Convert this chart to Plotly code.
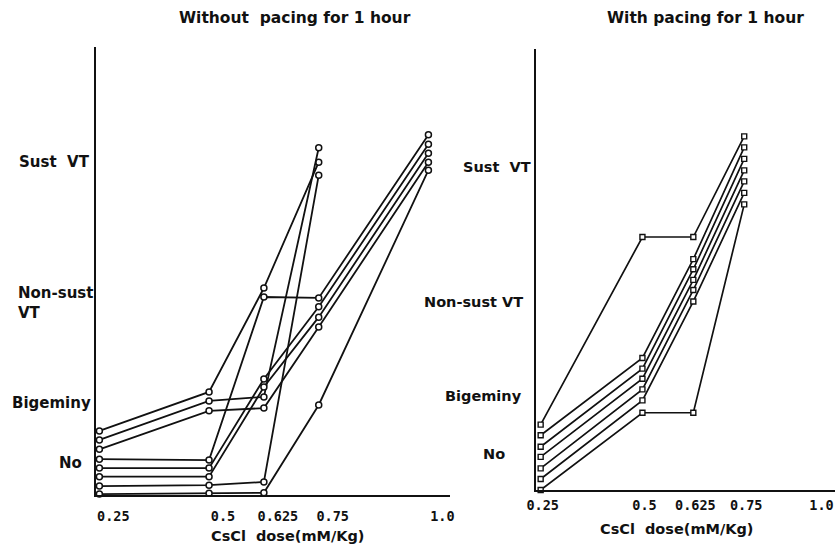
import plotly.graph_objects as go

# ---------------- data ----------------
doses = [0.25, 0.5, 0.625, 0.75, 1.0]
dose_ticks = ["0.25", "0.5", "0.625", "0.75", "1.0"]
levels = ["No", "Bigeminy", "Non-sust VT", "Sust  VT"]

# Left panel (without pacing): arrhythmia score per animal (circles)
left_x = {
    "A1": [0.25, 0.5, 0.625, 0.75],
    "A2": [0.25, 0.5, 0.625, 0.75],
    "A3": [0.25, 0.5, 0.625, 0.75, 1.0],
    "A4": [0.25, 0.5, 0.625, 0.75, 1.0],
    "A5": [0.25, 0.5, 0.625, 0.75, 1.0],
    "A6": [0.25, 0.5, 0.625, 0.75, 1.0],
    "A7": [0.25, 0.5, 0.625, 0.75],
    "A8": [0.25, 0.5, 0.625, 0.75, 1.0],
}
left_y = {
    "A1": [1.43, 2.30, 4.62, 7.43],
    "A2": [1.23, 2.10, 2.19, 7.75],
    "A3": [1.02, 1.88, 1.94, 3.75, 7.43],
    "A4": [0.80, 0.78, 4.42, 4.40, 8.04],
    "A5": [0.60, 0.60, 2.59, 4.20, 7.83],
    "A6": [0.41, 0.41, 2.41, 3.97, 7.63],
    "A7": [0.20, 0.22, 0.29, 7.14],
    "A8": [0.02, 0.04, 0.05, 2.01, 7.25],
}
# Right panel (with pacing): squares
right_x = {k: [0.25, 0.5, 0.625, 0.75] for k in ["B1", "B2", "B3", "B4", "B5", "B6", "B7"]}
right_y = {
    "B1": [1.48, 5.73, 5.73, 8.01],
    "B2": [1.24, 2.99, 5.23, 7.76],
    "B3": [0.98, 2.75, 5.00, 7.50],
    "B4": [0.75, 2.52, 4.76, 7.24],
    "B5": [0.49, 2.28, 4.53, 6.99],
    "B6": [0.25, 2.03, 4.27, 6.73],
    "B7": [0.00, 1.75, 1.75, 6.47],
}
left_level_pos = [0.71, 2.05, 4.29, 7.43]
right_level_pos = [0.82, 2.12, 4.25, 7.32]
right_tick_pos = [0.25, 0.5, 0.625, 0.75, 0.935]

# ---------------- figure ----------------
W, H = 840, 545
FONT = "DejaVu Sans"
MONO = "DejaVu Sans Mono"
INK = "#111111"

fig = go.Figure()
for k in left_x:
    fig.add_trace(go.Scatter(
        x=left_x[k], y=left_y[k], mode="lines+markers", xaxis="x", yaxis="y",
        line=dict(color=INK, width=1.8),
        marker=dict(symbol="circle", size=6, color="white", line=dict(color=INK, width=1.5)),
        cliponaxis=False, showlegend=False, hoverinfo="skip"))
for k in right_x:
    fig.add_trace(go.Scatter(
        x=right_x[k], y=right_y[k], mode="lines+markers", xaxis="x2", yaxis="y2",
        line=dict(color=INK, width=1.7),
        marker=dict(symbol="square", size=5, color="white", line=dict(color=INK, width=1.4)),
        cliponaxis=False, showlegend=False, hoverinfo="skip"))

def px2x(p):
    return p / W

def px2y(p):
    return (H - p) / H

axis_common = dict(showline=True, linecolor=INK, linewidth=2, showgrid=False,
                   zeroline=False, ticks="", fixedrange=True)
tickfont = dict(family=MONO, size=13.5, color=INK, weight="bold")

fig.update_layout(
    width=W, height=H, margin=dict(l=0, r=0, t=0, b=0),
    paper_bgcolor="white", plot_bgcolor="white", hovermode=False,
    xaxis=dict(domain=[px2x(88), px2x(448)], range=[0.2433, 1.0492],
               tickvals=doses, ticktext=dose_ticks, ticklabelshift=14, ticklabelstandoff=8,
               tickfont=tickfont, anchor="y", **axis_common),
    yaxis=dict(domain=[px2y(495), px2y(47)], range=[0, 10], showticklabels=False,
               anchor="x", **axis_common),
    xaxis2=dict(domain=[px2x(535.5), 1.0], range=[0.2384, 0.973],
                tickvals=right_tick_pos, ticktext=dose_ticks, ticklabelshift=2, ticklabelstandoff=2,
                tickfont=tickfont, anchor="y2", **axis_common),
    yaxis2=dict(domain=[px2y(490), px2y(48.5)], range=[0, 10], showticklabels=False,
                anchor="x2", **axis_common),
)

ann = []
tfont = dict(family=FONT, size=15.5, color=INK, weight="bold")
ann.append(dict(text="Without  pacing for 1 hour", x=px2x(290), y=px2y(18), xref="paper", yref="paper",
                showarrow=False, font=tfont, xanchor="center", yanchor="middle"))
ann.append(dict(text="With pacing for 1 hour", x=px2x(708), y=px2y(17.5), xref="paper", yref="paper",
                showarrow=False, font=tfont, xanchor="center", yanchor="middle"))
afont = dict(family=FONT, size=14.5, color=INK, weight="bold")
ann.append(dict(text="CsCl  dose(mM/Kg)", x=px2x(283), y=px2y(536), xref="paper", yref="paper",
                showarrow=False, font=afont, xanchor="center", yanchor="middle"))
ann.append(dict(text="CsCl  dose(mM/Kg)", x=px2x(679), y=px2y(529), xref="paper", yref="paper",
                showarrow=False, font=afont, xanchor="center", yanchor="middle"))

lfont = dict(family=FONT, size=15, color=INK, weight="bold")
# left panel level labels
left_label_text = ["No", "Bigeminy", "Non-sust<br>VT", "Sust  VT"]
left_label_x = [62, 85, 6, 83]
left_label_anchor = ["center", "right", "left", "right"]
for t, yv, xp, xa in zip(left_label_text, left_level_pos, left_label_x, left_label_anchor):
    ann.append(dict(text=t, x=px2x(xp), y=yv, xref="paper", yref="y", showarrow=False,
                    font=lfont, xanchor=xa, yanchor="middle", align="left"))
# right panel level labels
rfont = dict(family=FONT, size=14.5, color=INK, weight="bold")
right_label_x = [493, 523, 524, 533]
right_label_anchor = ["center", "right", "right", "right"]
for t, yv, xp, xa in zip(levels, right_level_pos, right_label_x, right_label_anchor):
    ann.append(dict(text=t, x=px2x(xp), y=yv, xref="paper", yref="y2", showarrow=False,
                    font=rfont, xanchor=xa, yanchor="middle", align="left"))

fig.update_layout(annotations=ann)
fig.write_html("out.html", config={"displayModeBar": False, "staticPlot": True},
               post_script="document.body.style.margin='0';document.body.style.overflow='hidden';")
